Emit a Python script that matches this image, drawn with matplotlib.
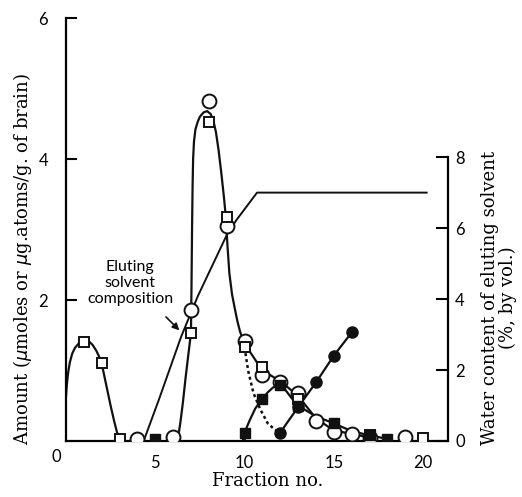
import matplotlib.pyplot as plt

# Open squares / open circles (first and main peaks)
open_sq_x = [1, 2, 3, 7, 8, 9, 10, 11, 13, 17, 20]
open_sq_y = [1.41, 1.11, 0.03, 1.53, 4.53, 3.18, 1.33, 1.05, 0.60, 0.08, 0.04]
open_circ_x = [4, 6, 7, 8, 9, 10, 11, 12, 13, 14, 15, 16, 17, 19]
open_circ_y = [0.03, 0.06, 1.86, 4.83, 3.05, 1.42, 0.94, 0.84, 0.68, 0.29, 0.13, 0.10, 0.04, 0.05]

# Filled squares and filled circles
filled_sq_x = [5, 10, 11, 12, 13, 15, 17, 18]
filled_sq_y = [0.03, 0.12, 0.60, 0.79, 0.50, 0.25, 0.08, 0.03]
filled_circ_x = [12, 13, 14, 15, 16]
filled_circ_y = [0.12, 0.48, 0.83, 1.21, 1.54]

# Hand-drawn curves
curve_a_x = [0, 0.05, 0.12, 0.22, 0.35, 0.5, 0.7, 0.9, 1.1, 1.3, 1.5, 1.7, 1.85, 2.0,
             2.15, 2.3, 2.5, 2.7, 2.85, 3.0]
curve_a_y = [0.63, 0.8, 0.97, 1.12, 1.24, 1.32, 1.38, 1.41, 1.43, 1.41, 1.36, 1.28, 1.2, 1.1,
             0.92, 0.74, 0.5, 0.28, 0.13, 0.02]
curve_b_x = [6.25, 6.4, 6.55, 6.7, 6.85, 7.0, 7.03, 7.06, 7.09, 7.12, 7.17, 7.25, 7.38, 7.5,
             7.7, 7.9, 8.1, 8.25, 8.4, 8.55, 8.7, 8.85, 8.95, 9.05, 9.15, 9.3, 9.47, 9.6,
             9.75, 9.9, 10.0, 11, 12, 13, 14, 15, 16, 17]
curve_b_y = [0.0, 0.25, 0.55, 0.9, 1.22, 1.53, 2.2, 3.0, 3.6, 4.0, 4.25, 4.42, 4.53, 4.6,
             4.66, 4.68, 4.64, 4.55, 4.38, 4.12, 3.8, 3.45, 3.18, 2.75, 2.38, 2.08, 1.86, 1.7,
             1.55, 1.45, 1.38, 1.0, 0.85, 0.64, 0.32, 0.15, 0.10, 0.05]
curve_c_x = [9.9, 10, 10.3, 10.6, 11, 11.3, 11.6, 12, 12.3, 12.6, 13, 14, 15, 16, 17, 18]
curve_c_y = [0.0, 0.12, 0.3, 0.46, 0.6, 0.69, 0.76, 0.79, 0.72, 0.62, 0.50, 0.35, 0.25,
             0.14, 0.08, 0.03]
dotted_x = [10.0, 10.2, 10.5, 10.9, 11.3, 11.7, 12.0]
dotted_y = [1.33, 1.0, 0.68, 0.44, 0.25, 0.16, 0.12]

# Water content of eluting solvent (% by vol.)
solvent_x = [4.35, 5.2, 6.45, 7.4, 9.0, 9.55, 10.7, 20.2]
solvent_w = [0, 1.16, 2.94, 4.1, 5.8, 6.23, 7.0, 7.0]

ink = '#111111'
tick_font = 'Lato'
label_font = 'DejaVu Serif'

fig = plt.figure(figsize=(5.22, 4.97), dpi=100)
ax = fig.add_axes([0.1264, 0.1127, 0.732, 0.851])
ax2 = ax.twinx()

lw = 1.6
ax.plot(curve_a_x, curve_a_y, color=ink, lw=lw, zorder=2)
ax.plot(curve_b_x, curve_b_y, color=ink, lw=lw, zorder=2)
ax.plot(curve_c_x, curve_c_y, color=ink, lw=lw, zorder=2)
ax.plot(filled_circ_x, filled_circ_y, color=ink, lw=lw, zorder=2)
ax.plot(dotted_x, dotted_y, color=ink, lw=1.8, ls=(0, (1.2, 1.2)), zorder=2)
ax2.plot(solvent_x, solvent_w, color=ink, lw=1.4, zorder=2)

ax.plot(open_sq_x, open_sq_y, ls='none', marker='s', ms=7, mfc='white', mec=ink, mew=1.4, zorder=4)
ax.plot(open_circ_x, open_circ_y, ls='none', marker='o', ms=10, mfc='white', mec=ink, mew=1.4, zorder=3)
ax.plot(filled_sq_x, filled_sq_y, ls='none', marker='s', ms=6.5, mfc=ink, mec=ink, zorder=5)
ax.plot(filled_circ_x, filled_circ_y, ls='none', marker='o', ms=8, mfc=ink, mec=ink, zorder=5)

# keep markers on top of the solvent line
ax.set_zorder(2)
ax.patch.set_visible(False)

ax.set_xlim(0, 21.4)
ax.set_ylim(0, 6)
ax2.set_ylim(0, 11.92)

for s in ['top', 'right']:
    ax.spines[s].set_visible(False)
for s in ['top', 'left', 'bottom']:
    ax2.spines[s].set_visible(False)
ax.spines['left'].set_linewidth(1.6)
ax.spines['bottom'].set_linewidth(1.6)
ax2.spines['right'].set_linewidth(1.6)
ax2.spines['right'].set_bounds(0, 8)

ax.set_xticks([5, 10, 15, 20])
ax.set_yticks([2, 4, 6])
ax2.set_yticks([0, 2, 4, 6, 8])
ax.tick_params(axis='x', direction='in', length=4, width=1.2, pad=10, labelsize=12)
ax.tick_params(axis='y', direction='in', length=8, width=1.5, pad=13, labelsize=12)
ax2.tick_params(axis='y', direction='in', length=9, width=1.5, pad=5, labelsize=12)
for lab in ax.get_xticklabels() + ax.get_yticklabels() + ax2.get_yticklabels():
    lab.set_fontfamily(tick_font)
ax.text(-0.56, -0.23, '0', fontsize=12, family=tick_font, ha='center', va='center', clip_on=False)

ax.set_xlabel('Fraction no.', fontsize=13, family=label_font)
ax.xaxis.label.set_va('center')
ax.xaxis.set_label_coords(0.529, -0.095)
ax.set_ylabel('Amount ($\\mu$moles or $\\mu$g.atoms/g. of brain)', fontsize=13, family=label_font)
ax.yaxis.label.set_va('center')
ax.yaxis.set_label_coords(-0.115, 0.43)
ax2.set_ylabel('Water content of eluting solvent\n(%, by vol.)', fontsize=13,
               family=label_font, linespacing=1.0)
ax2.yaxis.label.set_va('center')
ax2.yaxis.set_label_coords(1.133, 0.338)

ax.text(3.6, 2.24, 'Eluting\nsolvent\ncomposition', fontsize=11.5, family=tick_font,
        ha='center', va='center', linespacing=1.2)
ax.annotate('', xy=(6.35, 1.57), xytext=(5.6, 1.76),
            arrowprops=dict(arrowstyle='-|>', color=ink, lw=1.2, mutation_scale=10,
                            shrinkA=0, shrinkB=0))

plt.savefig('out.png', dpi=100)
